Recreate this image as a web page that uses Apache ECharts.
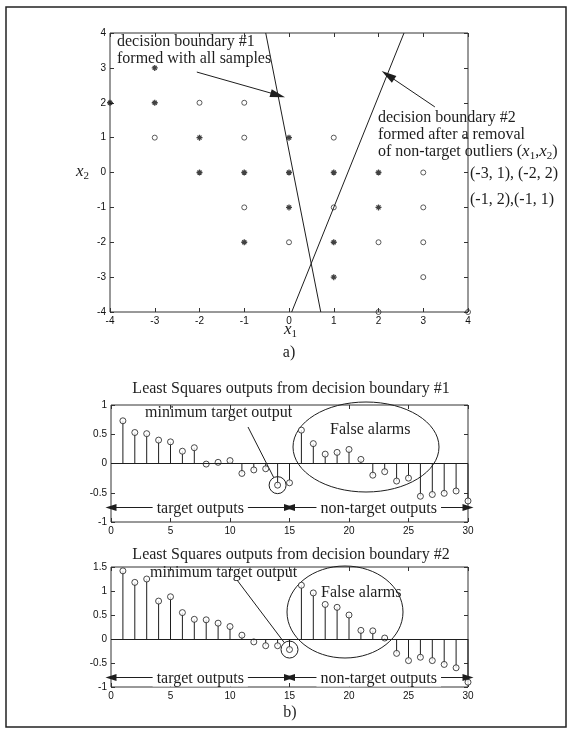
<!DOCTYPE html>
<html>
<head>
<meta charset="utf-8">
<script src="https://cdn.jsdelivr.net/npm/echarts@6.0.0/dist/echarts.min.js"></script>
<style>
  html, body { margin: 0; padding: 0; background: #fff; }
  #chart { width: 573px; height: 733px; }
</style>
</head>
<body>
<div id="chart"></div>
<script>
// ---- samples in the (x1, x2) plane ----
const targetX1 = [-3, -4, -3, -2, 0, -2, -1, 0, 1, 2, 0, 2, -1, 1, 1];
const targetX2 = [ 3,  2,  2,  1, 1,  0,  0, 0, 0, 0, -1, -1, -2, -2, -3];
const nonTargetX1 = [-2, -1, -3, -1, 1, 3, -1, 1, 3, 0, 2, 3, 3, 2, 4];
const nonTargetX2 = [ 2,  2,  1,  1, 1, 0, -1, -1, -1, -2, -2, -2, -3, -4, -4];

// ---- decision boundaries (end points across the plot) ----
const boundary1X1 = [-0.52, 0.71];
const boundary1X2 = [4, -4];
const boundary2X1 = [0.06, 2.57];
const boundary2X2 = [-4, 4];

// ---- least squares outputs per sample (1..15 targets, 16..30 non-targets) ----
const sampleIndex = [1, 2, 3, 4, 5, 6, 7, 8, 9, 10, 11, 12, 13, 14, 15,
                     16, 17, 18, 19, 20, 21, 22, 23, 24, 25, 26, 27, 28, 29, 30];
const outputsBoundary1 = [0.73, 0.53, 0.51, 0.40, 0.37, 0.21, 0.27, -0.01, 0.02, 0.05,
                          -0.17, -0.11, -0.09, -0.37, -0.33, 0.57, 0.34, 0.16, 0.19, 0.24,
                          0.07, -0.20, -0.14, -0.30, -0.25, -0.56, -0.53, -0.51, -0.47, -0.64];
const outputsBoundary2 = [1.42, 1.18, 1.25, 0.79, 0.88, 0.55, 0.41, 0.40, 0.33, 0.26,
                          0.08, -0.06, -0.14, -0.14, -0.22, 1.12, 0.96, 0.72, 0.66, 0.50,
                          0.18, 0.17, 0.02, -0.30, -0.45, -0.38, -0.45, -0.53, -0.60, -0.90];

// index (1-based) of the lowest target output in each panel
const minTarget1 = 14;
const minTarget2 = 15;
// level of the "target / non-target outputs" arrows
const arrowLevel1 = -0.75;
const arrowLevel2 = -0.8;

const INK = '#1e1e1e';
const SERIF = '"Liberation Serif", "Times New Roman", serif';
const SANS = '"Liberation Sans", Arial, sans-serif';

const chart = echarts.init(document.getElementById('chart'), null, { renderer: 'canvas' });

function axis(gridIndex, min, max, interval, position, labels) {
  return {
    type: 'value', gridIndex, min, max, interval, position,
    axisLine: { show: false, onZero: false },
    axisTick: { show: true, inside: true, length: 4, lineStyle: { color: '#333', width: 1 } },
    axisLabel: {
      show: labels, fontFamily: SANS, fontSize: 10, color: '#111', margin: 4,
      showMinLabel: true, showMaxLabel: true
    },
    splitLine: { show: false }
  };
}

function gridBox(left, top, width, height) {
  return { left, top, width, height, show: true, borderColor: '#333', borderWidth: 1,
           backgroundColor: 'transparent', outerBoundsMode: 'none' };
}

function stemItem(params, api) {
  const x = api.value(0), v = api.value(1);
  const p0 = api.coord([x, 0]);
  const p1 = api.coord([x, v]);
  return { type: 'line', shape: { x1: p0[0], y1: p0[1], x2: p1[0], y2: p1[1] },
           style: { stroke: INK, lineWidth: 1 } };
}

function pairs(a, b) { return a.map((v, i) => [v, b[i]]); }

function arrowLine(level, xFrom, xTo, text) {
  return [
    { coord: [xFrom, level], label: { show: true, position: 'middle', formatter: text } },
    { coord: [xTo, level] }
  ];
}

function stemSeries(gridIdx, values, minIdx, level) {
  const xi = gridIdx * 2, yi = gridIdx * 2;
  return [
    {
      type: 'custom', xAxisIndex: xi, yAxisIndex: yi,
      data: pairs(sampleIndex, values), renderItem: stemItem, silent: true,
      markLine: {
        silent: true, symbol: 'none', animation: false,
        lineStyle: { color: INK, width: 1, type: 'solid' },
        label: { show: false },
        data: [{ yAxis: 0 }]
      }
    },
    {
      type: 'scatter', xAxisIndex: xi, yAxisIndex: yi,
      data: pairs(sampleIndex, values), symbol: 'circle', symbolSize: 6, silent: true,
      itemStyle: { color: '#fff', borderColor: INK, borderWidth: 1 },
      markPoint: {
        silent: true, symbol: 'circle', symbolSize: 17, animation: false,
        itemStyle: { color: 'none', borderColor: INK, borderWidth: 1 },
        label: { show: false },
        data: [{ coord: [minIdx, values[minIdx - 1]] }]
      },
      markLine: {
        silent: true, symbol: ['triangle', 'triangle'], symbolSize: [7, 11], animation: false,
        lineStyle: { color: INK, width: 1, type: 'solid' },
        label: {
          show: true, position: 'middle', fontFamily: SERIF, fontSize: 16, color: INK,
          backgroundColor: '#fff', padding: [0, 4], distance: -9
        },
        data: [
          arrowLine(level, 0, 15, 'target outputs'),
          arrowLine(level, 15, 30, 'non-target outputs')
        ]
      }
    }
  ];
}

const option = {
  animation: false,
  backgroundColor: '#fff',
  grid: [
    gridBox(110, 33, 358, 279),
    gridBox(111, 405, 357, 117),
    gridBox(111, 567, 357, 120)
  ],
  xAxis: [
    axis(0, -4, 4, 1, 'bottom', true),
    axis(0, -4, 4, 1, 'top', false),
    axis(1, 0, 30, 5, 'bottom', true),
    axis(1, 0, 30, 5, 'top', false),
    axis(2, 0, 30, 5, 'bottom', true),
    axis(2, 0, 30, 5, 'top', false)
  ],
  yAxis: [
    axis(0, -4, 4, 1, 'left', true),
    axis(0, -4, 4, 1, 'right', false),
    axis(1, -1, 1, 0.5, 'left', true),
    axis(1, -1, 1, 0.5, 'right', false),
    axis(2, -1, 1.5, 0.5, 'left', true),
    axis(2, -1, 1.5, 0.5, 'right', false)
  ],
  series: [
    {
      type: 'scatter', xAxisIndex: 0, yAxisIndex: 0, silent: true,
      data: pairs(targetX1, targetX2),
      symbol: 'path://M5,0V10M0,5H10M1.6,1.6L8.4,8.4M1.6,8.4L8.4,1.6', symbolSize: 6,
      itemStyle: { color: 'none', borderColor: '#111', borderWidth: 1.3 }
    },
    {
      type: 'scatter', xAxisIndex: 0, yAxisIndex: 0, silent: true,
      data: pairs(nonTargetX1, nonTargetX2),
      symbol: 'circle', symbolSize: 5,
      itemStyle: { color: 'none', borderColor: '#333', borderWidth: 1 }
    },
    {
      type: 'line', xAxisIndex: 0, yAxisIndex: 0, silent: true, symbol: 'none',
      data: pairs(boundary1X1, boundary1X2),
      lineStyle: { color: INK, width: 1 },
      markLine: {
        silent: true, symbol: ['none', 'triangle'], symbolSize: [8, 15], animation: false,
        lineStyle: { color: INK, width: 1, type: 'solid' }, label: { show: false },
        data: [[{ coord: [-2.06, 2.88] }, { coord: [-0.25, 2.22] }]]
      }
    },
    {
      type: 'line', xAxisIndex: 0, yAxisIndex: 0, silent: true, symbol: 'none',
      data: pairs(boundary2X1, boundary2X2),
      lineStyle: { color: INK, width: 1 },
      markLine: {
        silent: true, symbol: ['none', 'triangle'], symbolSize: [8, 15], animation: false,
        lineStyle: { color: INK, width: 1, type: 'solid' }, label: { show: false },
        data: [[{ coord: [3.26, 1.88] }, { coord: [2.21, 2.79] }]]
      }
    },
    ...stemSeries(1, outputsBoundary1, minTarget1, arrowLevel1),
    ...stemSeries(2, outputsBoundary2, minTarget2, arrowLevel2)
  ]
};

chart.setOption(option);

// ---- text, frame and pointer annotations ----
function txt(x, y, text, align) {
  return {
    type: 'text', x, y, silent: true,
    style: { text, font: '16px ' + SERIF, fill: INK, textAlign: align || 'left', textVerticalAlign: 'middle' }
  };
}
function richTxt(x, y, text, align) {
  return {
    type: 'text', x, y, silent: true,
    style: {
      text, fill: INK, align: align || 'left', verticalAlign: 'middle',
      fontFamily: SERIF, fontSize: 16,
      rich: {
        n: { fontFamily: SERIF, fontSize: 16, fill: INK },
        i: { fontFamily: SERIF, fontSize: 17, fontStyle: 'italic', fill: INK },
        s: { fontFamily: SERIF, fontSize: 11, fill: INK, padding: [9, 0, 0, 0] }
      }
    }
  };
}
function pointer(gridIndex, idx, value, sx, sy) {
  const c = chart.convertToPixel({ gridIndex }, [idx, value]);
  const dx = sx - c[0], dy = sy - c[1];
  const d = Math.sqrt(dx * dx + dy * dy);
  const r = 8.5;
  return {
    type: 'line', silent: true,
    shape: { x1: sx, y1: sy, x2: c[0] + dx / d * r, y2: c[1] + dy / d * r },
    style: { stroke: INK, lineWidth: 1 }
  };
}

chart.setOption({
  graphic: [
    { type: 'rect', silent: true, shape: { x: 6, y: 7, width: 560, height: 720 },
      style: { fill: 'none', stroke: '#222', lineWidth: 1.5 } },

    txt(117, 42, 'decision boundary #1'),
    txt(117, 59, 'formed with all samples'),
    txt(378, 118, 'decision boundary #2'),
    txt(378, 135, 'formed after a removal'),
    richTxt(378, 152, '{n|of non-target outliers (}{i|x}{s|1}{n|,}{i|x}{s|2}{n|)}'),
    txt(470, 174, '(-3, 1), (-2, 2)'),
    txt(470, 200, '(-1, 2),(-1, 1)'),
    richTxt(76, 172, '{i|x}{s|2}'),
    richTxt(284, 330, '{i|x}{s|1}'),
    txt(289, 353, 'a)', 'center'),

    txt(291, 389, 'Least Squares outputs from decision boundary #1', 'center'),
    txt(145, 413, 'minimum target output'),
    txt(330, 430, 'False alarms'),
    { type: 'ellipse', silent: true, shape: { cx: 366, cy: 447, rx: 73, ry: 45 },
      style: { fill: 'none', stroke: INK, lineWidth: 1 } },
    pointer(1, minTarget1, outputsBoundary1[minTarget1 - 1], 248, 427),

    txt(291, 555, 'Least Squares outputs from decision boundary #2', 'center'),
    txt(150, 573, 'minimum target output'),
    txt(321, 593, 'False alarms'),
    { type: 'ellipse', silent: true, shape: { cx: 345, cy: 612, rx: 58, ry: 46 },
      style: { fill: 'none', stroke: INK, lineWidth: 1 } },
    pointer(2, minTarget2, outputsBoundary2[minTarget2 - 1], 237, 580),

    txt(290, 713, 'b)', 'center')
  ]
});
</script>
</body>
</html>
